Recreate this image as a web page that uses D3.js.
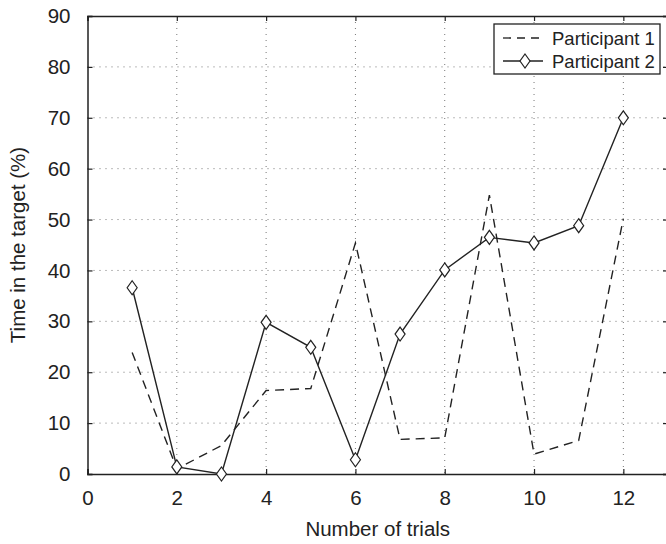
<!DOCTYPE html>
<html>
<head>
<meta charset="UTF-8">
<title>Time in target</title>
<script src="https://d3js.org/d3.v7.min.js"></script>
<style>
  * { margin: 0; padding: 0; box-sizing: border-box; }
  body { background: #fff; font-family: "Liberation Sans", Arial, sans-serif; }
  svg text { fill: #222; }
</style>
</head>
<body>
<div id="chart"></div>
<script>
const trials = [1, 2, 3, 4, 5, 6, 7, 8, 9, 10, 11, 12];
const participant1 = [23.9, 1.0, 5.6, 16.4, 16.8, 45.4, 6.8, 7.1, 54.8, 3.9, 6.6, 50.2];
const participant2 = [36.6, 1.4, 0, 29.8, 24.9, 2.8, 27.5, 40.1, 46.5, 45.4, 48.8, 70.0];
const xTicks = [0, 2, 4, 6, 8, 10, 12];
const yTicks = [0, 10, 20, 30, 40, 50, 60, 70, 80, 90];

const margin = { top: 16, right: -2, bottom: 70, left: 87.5 },
      W = 666, H = 544,
      width = W - margin.left - margin.right,
      height = H - margin.top - margin.bottom;

const svg = d3.select("#chart").append("svg")
    .attr("width", W).attr("height", H);
const g = svg.append("g").attr("transform", `translate(${margin.left},${margin.top})`);

const x = d3.scaleLinear().domain([0, 13]).range([0, width]);
const y = d3.scaleLinear().domain([0, 90]).range([height, 0]);

// grid
g.append("g").selectAll("line").data(yTicks.slice(1, -1)).join("line")
    .attr("x1", 0).attr("x2", width)
    .attr("y1", d => y(d)).attr("y2", d => y(d))
    .attr("stroke", "#777").attr("stroke-width", 1)
    .attr("stroke-dasharray", "1,5");
g.append("g").selectAll("line").data(xTicks.slice(1)).join("line")
    .attr("y1", 0).attr("y2", height)
    .attr("x1", d => x(d)).attr("x2", d => x(d))
    .attr("stroke", "#777").attr("stroke-width", 1)
    .attr("stroke-dasharray", "1,5");

// axes (ticks inward, all four sides)
const fs = "20.5px";
g.append("g").attr("transform", `translate(0,${height})`)
    .call(d3.axisBottom(x).tickValues(xTicks).tickSize(-5).tickPadding(16));
g.append("g")
    .call(d3.axisLeft(y).tickValues(yTicks).tickSize(-5).tickPadding(17));
g.append("g").call(d3.axisTop(x).tickValues(xTicks).tickSize(-5).tickFormat(""));
g.append("g").attr("transform", `translate(${width},0)`)
    .call(d3.axisRight(y).tickValues(yTicks).tickSize(-5).tickFormat(""));
g.selectAll(".domain").attr("stroke", "#222").attr("stroke-width", 1.5);
g.selectAll(".tick line").attr("stroke", "#222").attr("stroke-width", 1.2);
g.selectAll(".tick text").style("font-size", fs)
    .style("font-family", "'Liberation Sans', Arial, sans-serif").attr("fill", "#222");

// axis titles
svg.append("text")
    .attr("x", margin.left + x(6.5)).attr("y", 536)
    .attr("text-anchor", "middle").style("font-size", fs)
    .text("Number of trials");
svg.append("text")
    .attr("transform", `translate(25,${margin.top + height / 2}) rotate(-90)`)
    .attr("text-anchor", "middle").style("font-size", fs)
    .text("Time in the target (%)");

// lines
const line1 = d3.line().x((d, i) => x(trials[i])).y(d => y(d));
g.append("path").datum(participant1)
    .attr("d", line1).attr("fill", "none")
    .attr("stroke", "#222").attr("stroke-width", 1.4)
    .attr("stroke-dasharray", "9,6");
g.append("path").datum(participant2)
    .attr("d", line1).attr("fill", "none")
    .attr("stroke", "#222").attr("stroke-width", 1.4);

const diamond = (cx, cy) => `M${cx},${cy - 7}L${cx + 5},${cy}L${cx},${cy + 7}L${cx - 5},${cy}Z`;
g.append("g").selectAll("path").data(participant2).join("path")
    .attr("d", (d, i) => diamond(x(trials[i]), y(d)))
    .attr("fill", "#fff").attr("stroke", "#222").attr("stroke-width", 1.2);

// legend
const lg = svg.append("g").attr("transform", "translate(494,24)");
lg.append("rect").attr("width", 166).attr("height", 50)
    .attr("fill", "#fff").attr("stroke", "#222").attr("stroke-width", 1.3);
lg.append("line").attr("x1", 9).attr("x2", 49).attr("y1", 14).attr("y2", 14)
    .attr("stroke", "#222").attr("stroke-width", 1.3).attr("stroke-dasharray", "8,6");
lg.append("line").attr("x1", 9).attr("x2", 49).attr("y1", 37).attr("y2", 37)
    .attr("stroke", "#222").attr("stroke-width", 1.3);
lg.append("path").attr("d", diamond(31, 37))
    .attr("fill", "#fff").attr("stroke", "#222").attr("stroke-width", 1.2);
lg.append("text").attr("x", 58).attr("y", 20.5).style("font-size", "18.5px").text("Participant 1");
lg.append("text").attr("x", 58).attr("y", 43.5).style("font-size", "18.5px").text("Participant 2");
</script>
</body>
</html>
